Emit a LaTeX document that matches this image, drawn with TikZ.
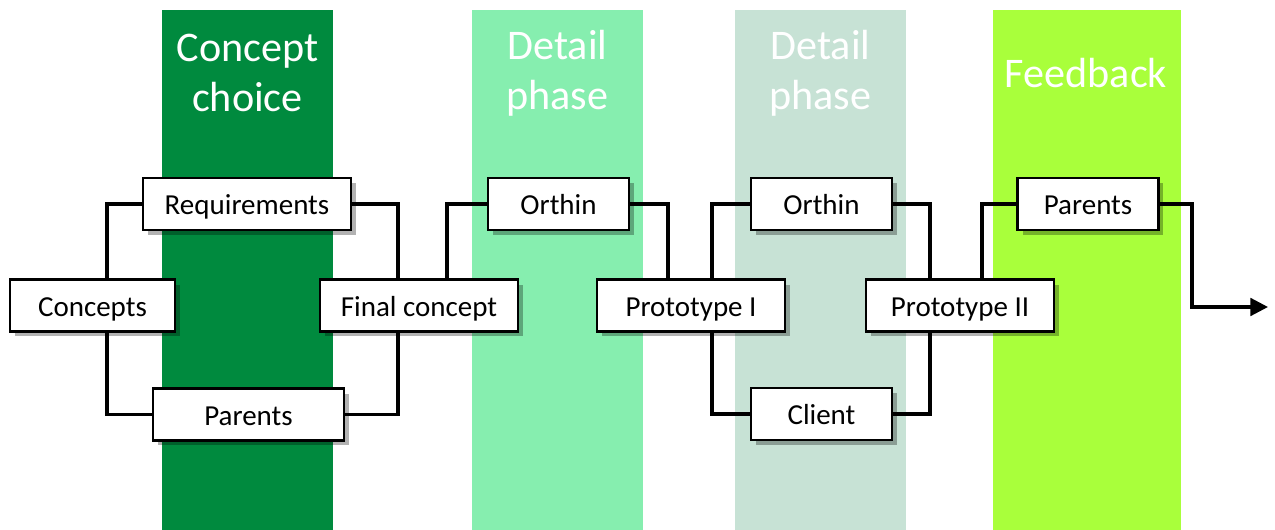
\documentclass[tikz,border=0pt]{standalone}
\usepackage{fontspec}
\setmainfont{Carlito}
\usetikzlibrary{shadows,arrows.meta}
\definecolor{bandA}{RGB}{0,138,62}
\definecolor{bandB}{RGB}{134,238,175}
\definecolor{bandC}{RGB}{199,226,213}
\definecolor{bandD}{RGB}{169,255,59}

\begin{document}
\begin{tikzpicture}[x=0.02cm,y=-0.02cm,
  box/.style={draw,line width=1.3pt,fill=white,minimum height=1.04cm,inner sep=0pt,
    text height=13pt,text depth=1pt,font=\fontsize{16.5}{19}\selectfont,
    drop shadow={shadow xshift=0.1cm,shadow yshift=-0.1cm,fill=black,opacity=0.3}},
  title/.style={text=white,align=center,font=\fontsize{24}{28.5}\selectfont},
  link/.style={line width=1.8pt}]
  \useasboundingbox (0,0) rectangle (1275,530);
  % phases
  \fill[bandA] (162,10) rectangle (333,530);
  \fill[bandB] (472,10) rectangle (643,530);
  \fill[bandC] (735,10) rectangle (906,530);
  \fill[bandD] (993,10) rectangle (1181,530);
  \node[title] (t1) at (247.5,73) {Concept\\choice};
  \node[title] (t2) at (557.5,73) {Detail\\phase};
  \node[title] (t3) at (820.5,73) {Detail\\phase};
  \node[title] (t4) at (1086,73) {Feedback};
  % boxes
  \node[box,minimum width=3.3cm] (concepts) at (92.5,305.5) {Concepts};
  \node[box,minimum width=4.16cm] (req) at (247,204) {Requirements};
  \node[box,minimum width=3.82cm] (par1) at (248.5,414.5) {Parents};
  \node[box,minimum width=3.96cm] (final) at (419,305.5) {Final concept};
  \node[box,minimum width=2.82cm] (orth1) at (558.5,204) {Orthin};
  \node[box,minimum width=3.76cm] (proto1) at (691,305.5) {Prototype I};
  \node[box,minimum width=2.82cm] (orth2) at (821.5,204) {Orthin};
  \node[box,minimum width=2.82cm] (client) at (821.5,414) {Client};
  \node[box,minimum width=3.76cm] (proto2) at (960,305.5) {Prototype II};
  \node[box,minimum width=2.82cm] (par2) at (1088,204) {Parents};
  % joints
  \coordinate (v1) at (107,0);
  \coordinate (v2) at (398,0);
  \coordinate (v3) at (447,0);
  \coordinate (v4) at (668,0);
  \coordinate (v5) at (712,0);
  \coordinate (v6) at (930,0);
  \coordinate (v7) at (982,0);
  \coordinate (v8) at (1192,0);
  \coordinate (out) at (1268,307);
  % connectors
  \draw[link] (concepts.north -| v1) |- (req.west);
  \draw[link] (concepts.south -| v1) |- (par1.west);
  \draw[link] (req.east) -| (final.north -| v2);
  \draw[link] (par1.east) -| (final.south -| v2);
  \draw[link] (final.north -| v3) |- (orth1.west);
  \draw[link] (orth1.east) -| (proto1.north -| v4);
  \draw[link] (proto1.north -| v5) |- (orth2.west);
  \draw[link] (proto1.south -| v5) |- (client.west);
  \draw[link] (orth2.east) -| (proto2.north -| v6);
  \draw[link] (client.east) -| (proto2.south -| v6);
  \draw[link] (proto2.north -| v7) |- (par2.west);
  \draw[link,-{Triangle[length=10pt,width=10pt]}] (par2.east) -| (v8 |- out) -- (out);
\end{tikzpicture}
\end{document}
